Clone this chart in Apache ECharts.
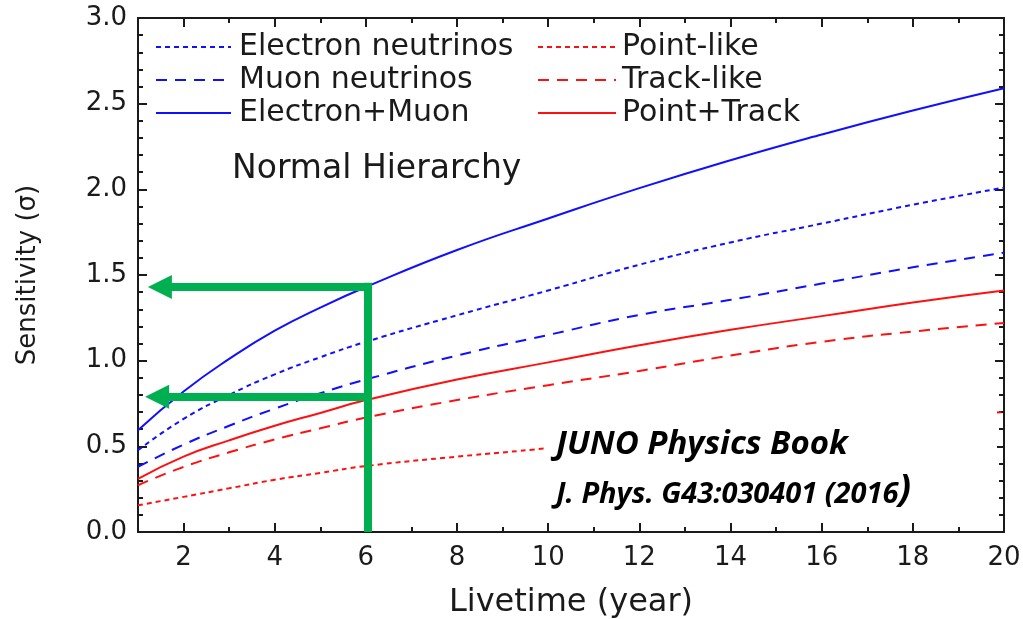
<!DOCTYPE html>
<html>
<head>
<meta charset="utf-8">
<script src="https://cdn.jsdelivr.net/npm/echarts@6/dist/echarts.min.js"></script>
<style>
html,body{margin:0;padding:0;background:#fff;}
#chart{width:1023px;height:619px;}
</style>
</head>
<body>
<div id="chart"></div>
<script>
// ---- data ----
const livetime = [1, 2, 3, 4, 5, 6, 8, 10, 12, 14, 16, 18, 20];
const electronNeutrinos = [0.477, 0.66, 0.80, 0.92, 1.02, 1.11, 1.265, 1.41, 1.56, 1.69, 1.80, 1.91, 2.01];
const muonNeutrinos     = [0.38, 0.51, 0.62, 0.72, 0.81, 0.89, 1.03, 1.15, 1.267, 1.355, 1.45, 1.545, 1.63];
const electronPlusMuon  = [0.594, 0.82, 1.01, 1.175, 1.31, 1.43, 1.646, 1.83, 2.007, 2.17, 2.32, 2.46, 2.59];
const pointLike         = [0.156, 0.205, 0.255, 0.305, 0.345, 0.385, 0.44, 0.49, 0.55, 0.59, 0.63, 0.67, 0.70];
const trackLike         = [0.273, 0.38, 0.465, 0.54, 0.605, 0.668, 0.77, 0.857, 0.94, 1.03, 1.11, 1.17, 1.22];
const pointPlusTrack    = [0.31, 0.44, 0.535, 0.62, 0.695, 0.77, 0.89, 0.99, 1.09, 1.18, 1.26, 1.34, 1.41];

const xMajorTicks = [2, 4, 6, 8, 10, 12, 14, 16, 18, 20];
const xMinorTicks = [3, 5, 7, 9, 11, 13, 15, 17, 19];

// annotation (green arrows) in data units
const markYear = 6.05;
const markValues = [1.43, 0.79];
const arrowEnds = [1.48, 1.42];
const verticalTop = 1.455;

const legendLeft = ['Electron neutrinos', 'Muon neutrinos', 'Electron+Muon'];
const legendRight = ['Point-like', 'Track-like', 'Point+Track'];

const BLUE = '#1010ff', RED = '#ff1010', GREEN = '#00b050', INK = '#1a1a1a';
const FONT = 'DejaVu Sans';

function pairs(vals) { return livetime.map((t, i) => [t, vals[i]]); }

function lineSeries(name, vals, color, type) {
  return {
    name: name, type: 'line', data: pairs(vals), smooth: true,
    showSymbol: false, symbol: 'none', silent: true,
    xAxisIndex: 0, yAxisIndex: 0,
    lineStyle: { color: color, width: 2, type: type },
    itemStyle: { color: color }
  };
}
const DOT = [5, 4], DASH = [11, 8];

const axisLineStyle = { show: true, lineStyle: { color: INK, width: 2 } };

const chart = echarts.init(document.getElementById('chart'));
chart.setOption({
  animation: false,
  backgroundColor: '#fff',
  grid: { left: 138, right: 19, top: 18, bottom: 87, containLabel: false, outerBoundsMode: 'none' },
  xAxis: [
    { type: 'value', min: 1, max: 20, position: 'bottom', axisLine: axisLineStyle,
      splitLine: { show: false },
      axisTick: { show: true, inside: true, length: 9, customValues: xMajorTicks, lineStyle: { color: INK, width: 2 } },
      axisLabel: { show: true, customValues: xMajorTicks, margin: 13, color: INK, fontFamily: FONT, fontSize: 26 },
      name: 'Livetime (year)', nameLocation: 'middle', nameGap: 55,
      nameTextStyle: { color: INK, fontFamily: FONT, fontSize: 32 } },
    { type: 'value', min: 1, max: 20, position: 'bottom', axisLine: { show: false },
      splitLine: { show: false }, axisLabel: { show: false },
      axisTick: { show: true, inside: true, length: 5, customValues: xMinorTicks, lineStyle: { color: INK, width: 2 } } },
    { type: 'value', min: 1, max: 20, position: 'top', axisLine: axisLineStyle,
      splitLine: { show: false }, axisLabel: { show: false },
      axisTick: { show: true, inside: true, length: 9, customValues: xMajorTicks, lineStyle: { color: INK, width: 2 } } },
    { type: 'value', min: 1, max: 20, position: 'top', axisLine: { show: false },
      splitLine: { show: false }, axisLabel: { show: false },
      axisTick: { show: true, inside: true, length: 5, customValues: xMinorTicks, lineStyle: { color: INK, width: 2 } } }
  ],
  yAxis: [
    { type: 'value', min: 0, max: 3, interval: 0.5, position: 'left', axisLine: axisLineStyle,
      splitLine: { show: false },
      axisTick: { show: true, inside: true, length: 9, lineStyle: { color: INK, width: 2 } },
      minorTick: { show: true, splitNumber: 5, length: 5, lineStyle: { color: INK, width: 2 } },
      axisLabel: { margin: 11, color: INK, fontFamily: FONT, fontSize: 26, formatter: v => v.toFixed(1) },
      name: 'Sensitivity (σ)', nameLocation: 'middle', nameGap: 97,
      nameTextStyle: { color: INK, fontFamily: FONT, fontSize: 26 } },
    { type: 'value', min: 0, max: 3, interval: 0.5, position: 'right', axisLine: axisLineStyle,
      splitLine: { show: false }, axisLabel: { show: false },
      axisTick: { show: true, inside: true, length: 9, lineStyle: { color: INK, width: 2 } },
      minorTick: { show: true, splitNumber: 5, length: 5, lineStyle: { color: INK, width: 2 } } }
  ],
  legend: [
    { data: legendLeft, orient: 'vertical', left: 150, top: 27, itemWidth: 75, itemHeight: 14, itemGap: 3,
      selectedMode: false, itemStyle: { opacity: 0 },
      textStyle: { color: INK, fontFamily: FONT, fontSize: 30, padding: [0, 0, 0, 3] } },
    { data: legendRight, orient: 'vertical', left: 532, top: 27, itemWidth: 78, itemHeight: 14, itemGap: 3,
      selectedMode: false, itemStyle: { opacity: 0 },
      textStyle: { color: INK, fontFamily: FONT, fontSize: 30, padding: [0, 0, 0, 1] } }
  ],
  series: [
    lineSeries('Electron neutrinos', electronNeutrinos, BLUE, DOT),
    lineSeries('Muon neutrinos', muonNeutrinos, BLUE, DASH),
    lineSeries('Electron+Muon', electronPlusMuon, BLUE, 'solid'),
    lineSeries('Point-like', pointLike, RED, DOT),
    lineSeries('Track-like', trackLike, RED, DASH),
    lineSeries('Point+Track', pointPlusTrack, RED, 'solid'),
    { name: 'annotation', type: 'line', data: [], silent: true, z: 5,
      markLine: {
        silent: true, animation: false, label: { show: false },
        lineStyle: { color: GREEN, width: 8, type: 'solid' },
        emphasis: { disabled: true },
        data: [
          [{ coord: [markYear, 0], symbol: 'none' }, { coord: [markYear, verticalTop], symbol: 'none' }],
          [{ coord: [markYear + 0.07, markValues[0]], symbol: 'none' }, { coord: [arrowEnds[0], markValues[0]], symbol: 'triangle', symbolSize: [24, 24] }],
          [{ coord: [markYear - 0.08, markValues[1]], symbol: 'none' }, { coord: [arrowEnds[1], markValues[1]], symbol: 'triangle', symbolSize: [24, 24] }]
        ]
      }
    }
  ],
  graphic: [
    { type: 'rect', left: 545, top: 403, z: 100, silent: true,
      shape: { width: 452, height: 118 }, style: { fill: '#fff' } },
    { type: 'text', left: 232, top: 153, z: 101, silent: true,
      style: { text: 'Normal Hierarchy', fill: INK, font: '33px "DejaVu Sans"' } },
    { type: 'text', left: 556, top: 428, z: 101, silent: true,
      style: { text: 'JUNO Physics Book', fill: '#000', font: 'italic bold 33px "Open Sans"' } },
    { type: 'text', left: 556, top: 472, z: 101, silent: true,
      style: { text: '{a|J. Phys. G43:030401 (2016}{b|)}', fill: '#000',
        rich: {
          a: { fontFamily: 'Open Sans', fontStyle: 'italic', fontWeight: 'bold', fontSize: 29, fill: '#000', verticalAlign: 'bottom' },
          b: { fontFamily: 'Open Sans', fontStyle: 'italic', fontWeight: 'bold', fontSize: 37, fill: '#000', verticalAlign: 'bottom' }
        } } }
  ]
});
</script>
</body>
</html>
